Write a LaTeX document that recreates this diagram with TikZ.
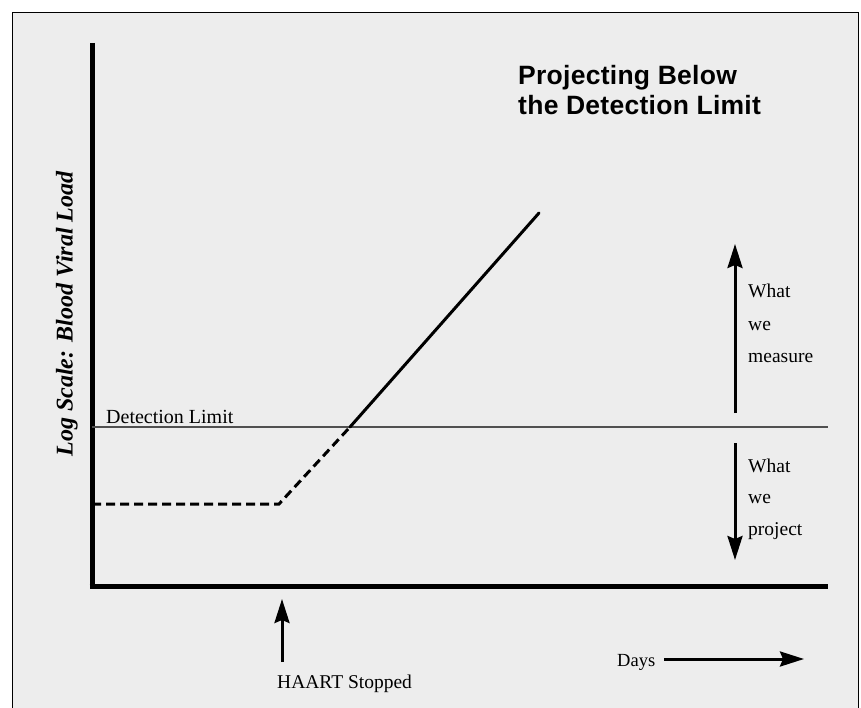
\documentclass[tikz,border=0pt]{standalone}
\usepackage{fontspec}
\setmainfont{Liberation Serif}
\newfontfamily\titlefont[LetterSpace=1]{Liberation Sans}
\usetikzlibrary{arrows.meta}
\definecolor{bgpanel}{RGB}{237,237,237}
\definecolor{limitgray}{RGB}{80,80,80}
\tikzset{
  axisline/.style={line width=5pt},
  curveline/.style={line width=3pt},
  dashline/.style={line width=3pt, dash pattern=on 9pt off 5pt},
  pointer/.style={line width=3pt, -{Stealth[length=24pt,width=15pt,inset=3pt]}},
  lbl/.style={inner sep=0pt, anchor=base west, font=\fontsize{19.5}{22}\selectfont},
  ttl/.style={inner sep=0pt, anchor=base west, font=\titlefont\bfseries\fontsize{26.5}{30}\selectfont},
}
\begin{document}
\begin{tikzpicture}[x=1pt,y=-1pt]
\useasboundingbox (0,0) rectangle (861,708);
\fill[white] (0,0) rectangle (861,708);
\draw[line width=1.5pt, fill=bgpanel] (12.5,12.5) rectangle (858.5,720);

% axes
\coordinate (ytop) at (92,43);
\coordinate (orig) at (92,589);
\coordinate (xend) at (828,586.5);
\draw[axisline] (ytop) -- (orig);
\draw[axisline] (89.5,586.5) -- (xend);

% detection limit
\coordinate (dl0) at (92,427);
\coordinate (dl1) at (828,427);
\draw[limitgray, line width=1.6pt] (dl0) -- (dl1);
\node[lbl, font=\fontsize{20}{22}\selectfont] (dltext) at (106,423) {Detection Limit};

% curve
\coordinate (c0) at (92,504);
\coordinate (c1) at (279,504);
\coordinate (c2) at (350,427);
\coordinate (c3) at (539,213);
\draw[dashline] (c0) -- (c1) -- (c2);
\draw[curveline, line cap=round] (c2) -- (c3);

% title
\node[ttl] (t1) at (518,85) {Projecting Below};
\node[ttl] (t2) at (518,115) {the Detection Limit};

% y label
\node[inner sep=0pt, rotate=90, anchor=base, font=\fontsize{24}{26}\selectfont\bfseries\itshape] (ylab) at (72.5,314) {Log Scale: Blood Viral Load};

% measure / project arrows
\coordinate (m0) at (735,413);
\coordinate (m1) at (735,244);
\coordinate (p0) at (735,443);
\coordinate (p1) at (735,560);
\draw[pointer] (m0) -- (m1);
\draw[pointer] (p0) -- (p1);
\node[lbl] (w1) at (748,298) {What};
\node[lbl] (w2) at (748,330) {we};
\node[lbl] (w3) at (748,362) {measure};
\node[lbl] (w4) at (748,472) {What};
\node[lbl] (w5) at (748,503) {we};
\node[lbl] (w6) at (748,535) {project};

% HAART
\coordinate (h0) at (282,662);
\coordinate (h1) at (282,599);
\draw[pointer] (h0) -- (h1);
\node[lbl] (haart) at (277,688) {HAART Stopped};

% Days
\node[lbl, font=\fontsize{18.5}{22}\selectfont] (days) at (617,666) {Days};
\coordinate (d0) at (664,659);
\coordinate (d1) at (804,659);
\draw[pointer] (d0) -- (d1);
\end{tikzpicture}
\end{document}
